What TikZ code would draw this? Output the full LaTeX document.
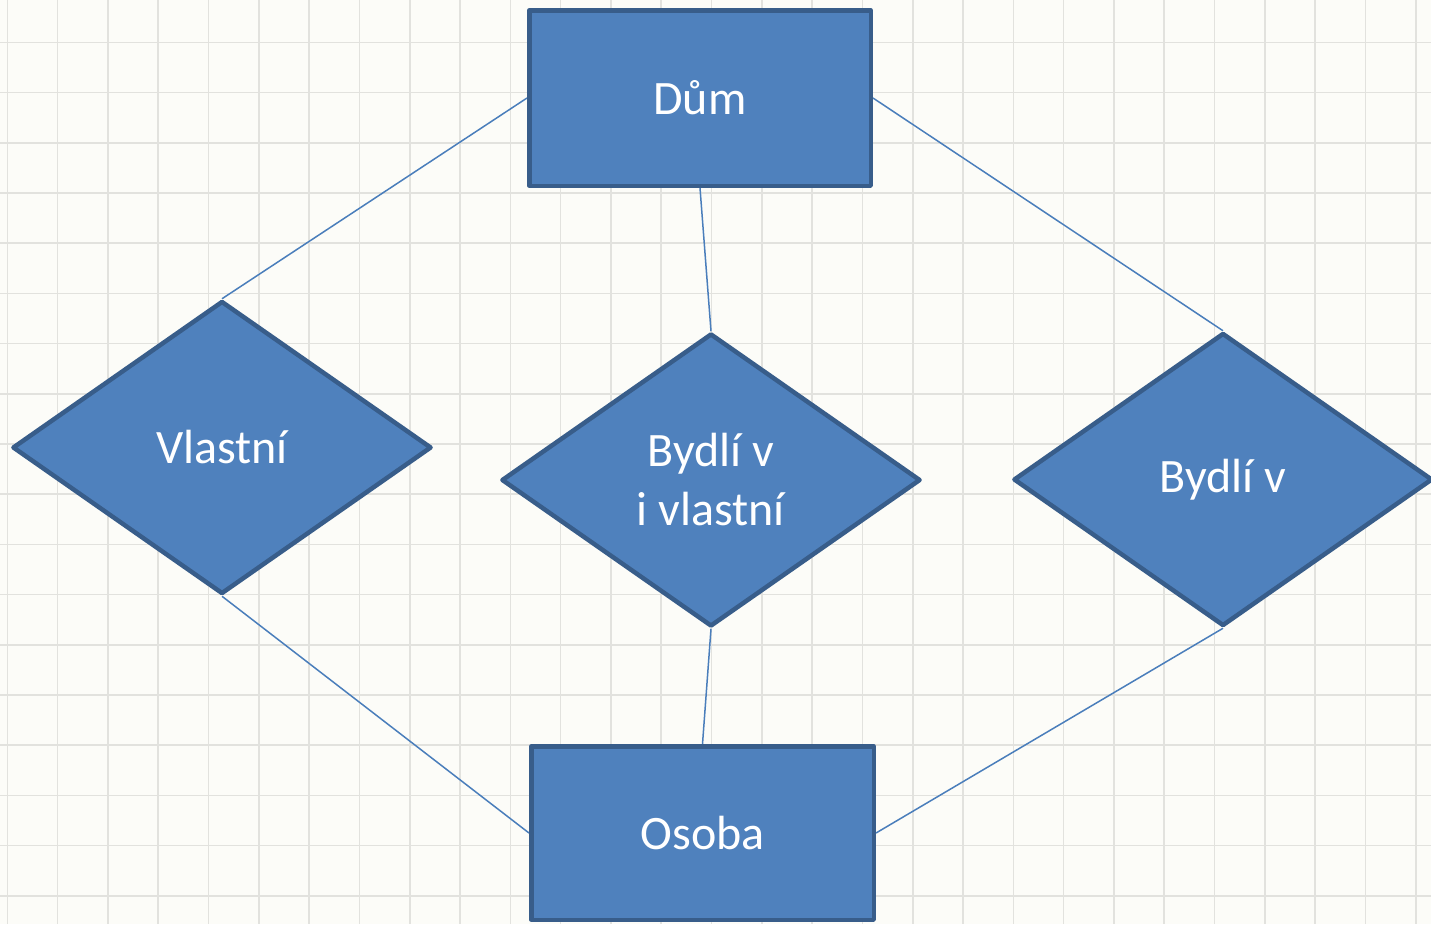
\documentclass[tikz,border=0pt]{standalone}
\usepackage{fontspec}
\setmainfont{Carlito}
\usetikzlibrary{shapes.geometric,backgrounds}
\definecolor{bgc}{HTML}{FCFCF8}
\definecolor{gridc}{HTML}{E2E2DE}
\definecolor{fillc}{HTML}{4F81BD}
\definecolor{borderc}{HTML}{385D8A}
\definecolor{linec}{HTML}{4A7EBB}
\tikzset{
  entity/.style={rectangle, draw=borderc, fill=fillc, line width=4.5pt, line join=round,
    text=white, font=\fontsize{48}{59}\selectfont, inner sep=0pt, align=center},
  relation/.style={diamond, draw=borderc, fill=fillc, line width=4.5pt, line join=round,
    text=white, font=\fontsize{48}{59}\selectfont, inner sep=0pt, align=center,
    minimum width=419pt, minimum height=293pt, aspect=1.43},
  conn/.style={draw=linec, line width=1.5pt},
  gridline/.style={draw=gridc, line width=1.6pt}
}
\begin{document}
\begin{tikzpicture}[x=1pt,y=-1pt]
\useasboundingbox (0,0) rectangle (1431,924);
% nodes
\node[entity, minimum width=341.5pt, minimum height=175.5pt] (dum) at (700,98) {Dům};
\node[entity, minimum width=342.5pt, minimum height=173.5pt] (osoba) at (702.5,833) {Osoba};
\node[relation] (vl) at (222,447.5) {Vlastní};
\node[relation] (bvi) at (711,480) {Bydlí v\\i vlastní};
\node[relation] (bv) at (1223,479.5) {Bydlí v};
\begin{scope}[on background layer]
  \fill[bgc] (0,0) rectangle (1431,924);
  \foreach \i in {0,...,28} {
    \draw[gridline] ({7.3+50.3*\i},0) -- ({7.3+50.3*\i},924);
  }
  \foreach \j in {0,...,18} {
    \draw[gridline] (0,{42.3+50.2*\j}) -- (1431,{42.3+50.2*\j});
  }
  \draw[conn] (dum.west) -- (vl.north);
  \draw[conn] (dum.east) -- (bv.north);
  \draw[conn] (dum.south) -- (bvi.north);
  \draw[conn] (bvi.south) -- (osoba.north);
  \draw[conn] (vl.south) -- (osoba.west);
  \draw[conn] (bv.south) -- (osoba.east);
\end{scope}
\end{tikzpicture}
\end{document}
